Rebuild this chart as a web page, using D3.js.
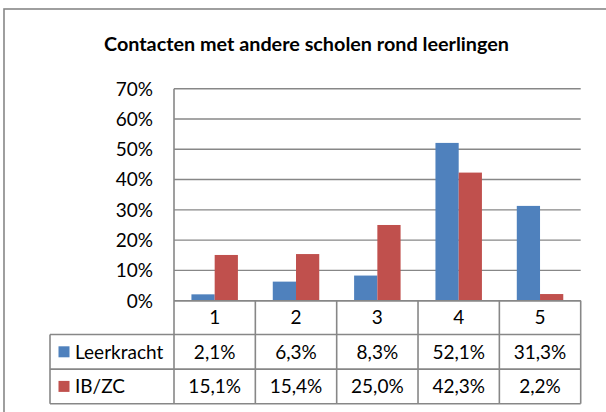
<!DOCTYPE html>
<html>
<head>
<meta charset="utf-8">
<script src="https://cdn.jsdelivr.net/npm/d3@7"></script>
<style>
  body { margin: 0; background: #fff; }
  svg { display: block; }
  text { font-family: Lato, "Open Sans", sans-serif; fill: #000; }
</style>
</head>
<body>
<svg id="chart" width="606" height="412"></svg>
<script>
(function() {

  var categories = ["1", "2", "3", "4", "5"];
  var seriesNames = ["Leerkracht", "IB/ZC"];
  var leerkracht = [2.1, 6.3, 8.3, 52.1, 31.3];
  var ibzc = [15.1, 15.4, 25.0, 42.3, 2.2];
  var yTicks = [0, 10, 20, 30, 40, 50, 60, 70];
  var colors = ["#4F81BD", "#C0504D"];

  var series = [leerkracht, ibzc];
  var lineColor = "#878787";
  var labelSize = 19;

  var svg = d3.select("#chart");

  // outer chart frame (runs off the right and bottom of the picture)
  svg.append("rect")
      .attr("x", 4)
      .attr("y", 9)
      .attr("width", 640)
      .attr("height", 440)
      .attr("fill", "#fff")
      .attr("stroke", lineColor)
      .attr("stroke-width", 1.6);

  svg.append("text")
      .attr("x", 306.5)
      .attr("y", 50.5)
      .attr("text-anchor", "middle")
      .attr("font-weight", "bold")
      .attr("font-size", 19.8)
      .text("Contacten met andere scholen rond leerlingen");

  var x = d3.scaleBand()
      .domain(categories)
      .range([174, 580.7])
      .paddingInner(0.4286)
      .paddingOuter(0.2143);

  var xSeries = d3.scaleBand()
      .domain(d3.range(series.length))
      .range([0, x.bandwidth()]);

  var y = d3.scaleLinear()
      .domain([0, 70])
      .range([300.7, 88.7]);

  // gridlines
  svg.append("g")
    .selectAll("line")
    .data(yTicks)
    .enter()
    .append("line")
      .attr("x1", 174)
      .attr("x2", 580.7)
      .attr("y1", function(d) { return y(d); })
      .attr("y2", function(d) { return y(d); })
      .attr("stroke", lineColor)
      .attr("stroke-width", 1.4);

  svg.append("g")
    .selectAll("text")
    .data(yTicks)
    .enter()
    .append("text")
      .attr("x", 153)
      .attr("y", function(d) { return y(d); })
      .attr("dy", "0.36em")
      .attr("text-anchor", "end")
      .attr("font-size", labelSize)
      .text(function(d) { return d + "%"; });

  // bars
  var groups = svg.append("g")
    .selectAll("g")
    .data(series)
    .enter()
    .append("g")
      .attr("fill", function(d, i) { return colors[i]; });

  groups.each(function(vals, si) {
    d3.select(this).selectAll("rect")
      .data(vals)
      .enter()
      .append("rect")
        .attr("x", function(d, i) { return x(categories[i]) + xSeries(si); })
        .attr("width", xSeries.bandwidth())
        .attr("y", function(d) { return y(d); })
        .attr("height", function(d) { return y(0) - y(d); });
  });

  // data table below the plot
  var colStep = x.step();
  var colLeft = function(i) { return 174 + i * colStep; };
  var rowTops = [300.7, 334.5, 369.1, 403.7];
  var legendLeft = 50;

  var table = svg.append("g")
      .attr("stroke", lineColor)
      .attr("stroke-width", 1.6)
      .attr("fill", "none");

  // horizontal lines
  table.append("line")
      .attr("x1", 174).attr("x2", 580.7)
      .attr("y1", rowTops[0]).attr("y2", rowTops[0]);
  [1, 2, 3].forEach(function(r) {
    table.append("line")
        .attr("x1", legendLeft).attr("x2", 580.7)
        .attr("y1", rowTops[r]).attr("y2", rowTops[r]);
  });
  // vertical lines
  d3.range(categories.length + 1).forEach(function(i) {
    table.append("line")
        .attr("x1", colLeft(i)).attr("x2", colLeft(i))
        .attr("y1", i == 0 ? 88.7 : rowTops[0]).attr("y2", rowTops[3]);
  });
  table.append("line")
      .attr("x1", legendLeft).attr("x2", legendLeft)
      .attr("y1", rowTops[1]).attr("y2", rowTops[3]);

  svg.append("g")
    .selectAll("text")
    .data(categories)
    .enter()
    .append("text")
      .attr("x", function(d) { return x(d) + x.bandwidth() / 2; })
      .attr("y", (rowTops[0] + rowTops[1]) / 2)
      .attr("dy", "0.36em")
      .attr("text-anchor", "middle")
      .attr("font-size", labelSize)
      .text(function(d) { return d; });

  series.forEach(function(vals, si) {
    var cy = (rowTops[si + 1] + rowTops[si + 2]) / 2;

    svg.append("rect")
        .attr("x", 58.5)
        .attr("y", cy - 5.5)
        .attr("width", 11)
        .attr("height", 11)
        .attr("fill", colors[si]);

    svg.append("text")
        .attr("x", 75)
        .attr("y", cy)
        .attr("dy", "0.36em")
        .attr("font-size", labelSize)
        .text(seriesNames[si]);

    svg.append("g")
      .selectAll("text")
      .data(vals)
      .enter()
      .append("text")
        .attr("x", function(d, i) { return x(categories[i]) + x.bandwidth() / 2; })
        .attr("y", cy)
        .attr("dy", "0.36em")
        .attr("text-anchor", "middle")
        .attr("font-size", labelSize)
        .text(function(d) { return d3.format(".1f")(d).replace(".", ",") + "%"; });
  });

})();
</script>
</body>
</html>
